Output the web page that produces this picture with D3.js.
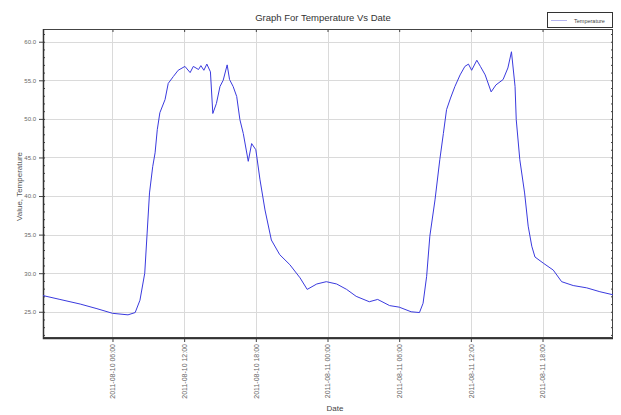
<!DOCTYPE html>
<html>
<head>
<meta charset="utf-8">
<script src="https://cdn.jsdelivr.net/npm/d3@7"></script>
<style>
  body { margin: 0; background: #fff; }
  svg { display: block; font-family: "Liberation Sans", Arial, sans-serif; }
</style>
</head>
<body>
<svg id="chart"></svg>
<script>
// readings: time stamps and temperature values
var times = [
  "2011-08-10 00:11", "2011-08-10 01:36", "2011-08-10 03:18", "2011-08-10 04:42",
  "2011-08-10 06:00", "2011-08-10 07:18", "2011-08-10 07:54", "2011-08-10 08:18",
  "2011-08-10 08:42", "2011-08-10 08:54", "2011-08-10 09:06", "2011-08-10 09:22",
  "2011-08-10 09:34", "2011-08-10 09:45", "2011-08-10 09:58", "2011-08-10 10:24",
  "2011-08-10 10:40", "2011-08-10 11:06", "2011-08-10 11:30", "2011-08-10 12:04",
  "2011-08-10 12:30", "2011-08-10 12:46", "2011-08-10 13:12", "2011-08-10 13:24",
  "2011-08-10 13:39", "2011-08-10 13:54", "2011-08-10 14:12", "2011-08-10 14:24",
  "2011-08-10 14:42", "2011-08-10 15:00", "2011-08-10 15:16", "2011-08-10 15:36",
  "2011-08-10 15:48", "2011-08-10 16:06", "2011-08-10 16:24", "2011-08-10 16:40",
  "2011-08-10 16:57", "2011-08-10 17:22", "2011-08-10 17:39", "2011-08-10 18:00",
  "2011-08-10 18:21", "2011-08-10 18:46", "2011-08-10 19:18", "2011-08-10 20:00",
  "2011-08-10 20:51", "2011-08-10 21:42", "2011-08-10 22:18", "2011-08-10 23:06",
  "2011-08-10 23:54", "2011-08-11 00:46", "2011-08-11 01:36", "2011-08-11 02:24",
  "2011-08-11 03:30", "2011-08-11 04:12", "2011-08-11 05:12", "2011-08-11 06:00",
  "2011-08-11 07:00", "2011-08-11 07:42", "2011-08-11 08:00", "2011-08-11 08:18",
  "2011-08-11 08:34", "2011-08-11 09:00", "2011-08-11 09:24", "2011-08-11 09:42",
  "2011-08-11 09:58", "2011-08-11 10:18", "2011-08-11 10:40", "2011-08-11 11:06",
  "2011-08-11 11:30", "2011-08-11 11:48", "2011-08-11 12:04", "2011-08-11 12:30",
  "2011-08-11 12:48", "2011-08-11 13:12", "2011-08-11 13:42", "2011-08-11 14:06",
  "2011-08-11 14:42", "2011-08-11 15:06", "2011-08-11 15:24", "2011-08-11 15:42",
  "2011-08-11 15:48", "2011-08-11 16:06", "2011-08-11 16:30", "2011-08-11 16:48",
  "2011-08-11 17:06", "2011-08-11 17:22", "2011-08-11 18:04", "2011-08-11 18:54",
  "2011-08-11 19:36", "2011-08-11 20:34", "2011-08-11 21:42", "2011-08-11 22:48",
  "2011-08-11 23:54"
];
var temps = [
  27.1, 26.6, 26.0, 25.4,
  24.8, 24.6, 24.9, 26.5,
  30.0, 35.2, 40.4, 43.8,
  45.6, 48.6, 50.8, 52.5,
  54.6, 55.5, 56.3, 56.8,
  56.0, 56.8, 56.4, 56.9,
  56.3, 57.1, 56.1, 50.7,
  52.0, 54.2, 55.0, 57.0,
  55.1, 54.2, 52.9, 49.9,
  48.1, 44.5, 46.8, 46.0,
  42.1, 38.2, 34.3, 32.4,
  31.1, 29.4, 27.9, 28.6,
  28.9, 28.6, 27.9, 27.0,
  26.3, 26.6, 25.8, 25.6,
  25.0, 24.9, 26.1, 29.6,
  34.8, 39.5, 44.7, 48.1,
  51.2, 52.7, 54.2, 55.7,
  56.8, 57.1, 56.3, 57.6,
  56.8, 55.7, 53.5, 54.4,
  55.1, 56.6, 58.7, 54.2,
  49.9, 44.7, 40.4, 36.1,
  33.5, 32.1, 31.3, 30.4,
  28.9, 28.4, 28.1, 27.6,
  27.2
];
var tickTimes = [
  "2011-08-10 06:00", "2011-08-10 12:00", "2011-08-10 18:00", "2011-08-11 00:00",
  "2011-08-11 06:00", "2011-08-11 12:00", "2011-08-11 18:00"
];
var yTicks = [25, 30, 35, 40, 45, 50, 55, 60];

var width = 621, height = 415;
var margin = {top: 29, right: 8, bottom: 77, left: 43};
var parse = d3.timeParse("%Y-%m-%d %H:%M");
var fmt = d3.timeFormat("%Y-%m-%d %H:%M");

var data = times.map((t, i) => ({date: parse(t), value: temps[i]}));

var svg = d3.select("#chart").attr("width", width).attr("height", height);

var x = d3.scaleTime()
    .domain(d3.extent(data, d => d.date))
    .range([margin.left, width - margin.right]);
var y = d3.scaleLinear()
    .domain([21.6, 61.65])
    .range([height - margin.bottom, margin.top]);

var x0 = margin.left, x1 = width - margin.right;
var y0 = height - margin.bottom, y1 = margin.top;
var xTickDates = tickTimes.map(parse);
var minor = d3.range(22, 62);

// grid
svg.append("g")
  .selectAll("line")
  .data(yTicks)
  .join("line")
    .attr("x1", x0).attr("x2", x1)
    .attr("y1", d => Math.round(y(d)) + 0.5).attr("y2", d => Math.round(y(d)) + 0.5)
    .attr("stroke", "#dadada");
svg.append("g")
  .selectAll("line")
  .data(xTickDates)
  .join("line")
    .attr("x1", d => Math.round(x(d)) + 0.5).attr("x2", d => Math.round(x(d)) + 0.5)
    .attr("y1", y1).attr("y2", y0)
    .attr("stroke", "#dadada");

// axes
var leftAxis = svg.append("g")
    .attr("transform", "translate(" + x0 + ",0)")
    .call(d3.axisLeft(y).tickValues(yTicks).tickFormat(d3.format(".1f")).tickSize(4).tickPadding(3));
var leftMinor = svg.append("g")
    .attr("transform", "translate(" + x0 + ",0)")
    .call(d3.axisRight(y).tickValues(minor).tickSize(2).tickFormat(""));
var rightAxis = svg.append("g")
    .attr("transform", "translate(" + x1 + ",0)")
    .call(d3.axisLeft(y).tickValues(minor).tickSize(2).tickFormat(""));
var bottomAxis = svg.append("g")
    .attr("transform", "translate(0," + y0 + ")")
    .call(d3.axisBottom(x).tickValues(xTickDates).tickFormat(fmt).tickSize(4).tickPadding(6));
var topAxis = svg.append("g")
    .attr("transform", "translate(0," + y1 + ")")
    .call(d3.axisBottom(x).tickValues(xTickDates).tickSize(3).tickFormat(""));

[leftAxis, leftMinor, rightAxis, bottomAxis, topAxis].forEach(g => {
  g.select(".domain").remove();
  g.selectAll("line").attr("stroke", "#444");
});
leftAxis.selectAll("text").attr("font-size", 6).attr("fill", "#666");
bottomAxis.selectAll("text")
    .attr("font-size", 7)
    .attr("fill", "#666")
    .attr("text-anchor", "end")
    .attr("transform", "rotate(-90)")
    .attr("x", -6)
    .attr("y", 0)
    .attr("dy", "0.32em");

// frame
svg.append("rect")
    .attr("x", x0 + 0.5).attr("y", y1 + 0.5)
    .attr("width", x1 - x0 - 1).attr("height", y0 - y1 - 1)
    .attr("fill", "none")
    .attr("stroke", "#444");
svg.append("path")
    .attr("d", "M" + (x0 + 0.5) + "," + y1 + "V" + (y0 + 0.5) + "H" + x1)
    .attr("fill", "none")
    .attr("stroke", "#333")
    .attr("stroke-width", 1.5);

// series
var line = d3.line().x(d => x(d.date)).y(d => y(d.value));
svg.append("path")
    .datum(data)
    .attr("d", line)
    .attr("fill", "none")
    .attr("stroke", "#3a3ade")
    .attr("stroke-width", 1);

// titles
svg.append("text")
    .attr("x", 323).attr("y", 21)
    .attr("text-anchor", "middle")
    .attr("font-size", 9.5)
    .attr("fill", "#333")
    .text("Graph For Temperature Vs Date");
svg.append("text")
    .attr("transform", "translate(22," + ((y0 + y1) / 2 + 3) + ") rotate(-90)")
    .attr("text-anchor", "middle")
    .attr("font-size", 8)
    .attr("fill", "#555")
    .text("Value, Temperature");
svg.append("text")
    .attr("x", 335).attr("y", 411)
    .attr("text-anchor", "middle")
    .attr("font-size", 8)
    .attr("fill", "#444")
    .text("Date");

// legend
var leg = svg.append("g");
leg.append("rect")
    .attr("x", 547.5).attr("y", 12.5).attr("width", 65).attr("height", 15)
    .attr("fill", "#fff").attr("stroke", "#333");
leg.append("line")
    .attr("x1", 551).attr("x2", 567).attr("y1", 20.5).attr("y2", 20.5)
    .attr("stroke", "#b4b4ee");
leg.append("text")
    .attr("x", 574).attr("y", 22.5)
    .attr("font-size", 5.5)
    .attr("fill", "#444")
    .text("Temperature");
</script>
</body>
</html>
